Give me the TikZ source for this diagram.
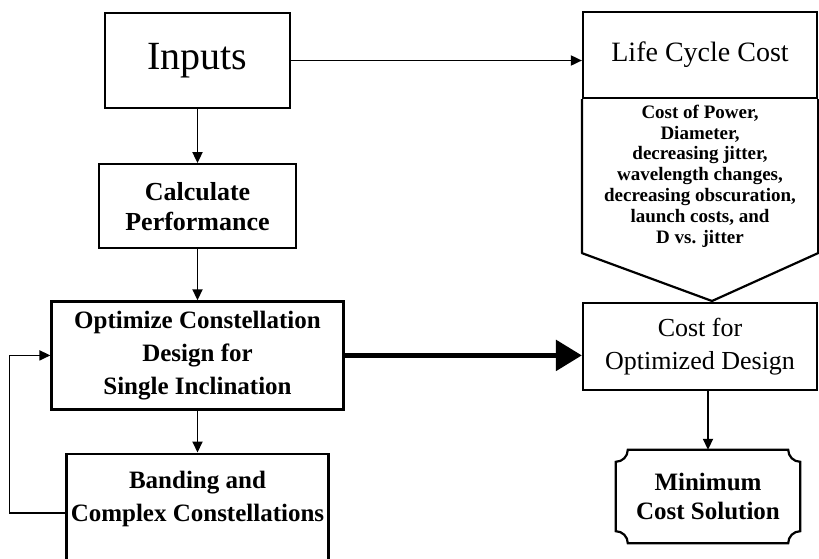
\documentclass[tikz,border=0pt]{standalone}
\usepackage{fontspec}
\setmainfont{Liberation Serif}
\usepackage{tikz}
\usetikzlibrary{positioning,%
  arrows.meta,%
  calc%
}

\begin{document}
\begin{tikzpicture}
                    [x=1pt, y=-1pt,
                    box/.style={rectangle, draw, line width=2.2pt,
                        inner sep=0pt, align=center},
                    plain/.style={inner sep=0pt, align=center},
                    link/.style={line width=1.8pt,
                        -{Triangle[length=11pt,width=10pt]}},
                    bigf/.style={font=\fontsize{25}{33}\selectfont\bfseries}]

                    \useasboundingbox (0,0) rectangle (819,558);

                    % left column
                    \node[box, minimum width=185pt, minimum height=95pt,
                        font=\fontsize{40}{44}\selectfont] (inputs)
                        at (197.5,60.5) {Inputs};
                    \node[box, minimum width=197pt, minimum height=84pt,
                        font=\fontsize{26}{30}\selectfont\bfseries,
                        below=54pt of inputs] (calc)
                        {Calculate\\Performance};
                    \node[box, bigf, minimum width=292pt, minimum height=108pt,
                        below=51pt of calc] (opt)
                        {Optimize Constellation\\Design for\\Single Inclination};
                    \node[box, minimum width=262pt, minimum height=118pt,
                        below=42pt of opt] (band) {};
                    \node[plain, bigf] (bandtext) at ([yshift=14pt]band.center)
                        {Banding and\\Complex Constellations};

                    % right column
                    \node[box, minimum width=234pt, minimum height=86pt,
                        font=\fontsize{28}{32}\selectfont] (lcc)
                        at (700,55) {Life Cycle Cost};
                    \node[plain, font=\fontsize{19}{20.8}\selectfont\bfseries]
                        (lccnote) at (700,176)
                        {Cost of Power,\\Diameter,\\decreasing jitter,\\wavelength changes,\\decreasing obscuration,\\launch costs, and\\D vs. jitter};
                    \node[box, minimum width=234pt, minimum height=87pt,
                        font=\fontsize{26}{33}\selectfont] (cost)
                        at (700,346.5) {Cost for\\Optimized Design};
                    \node[plain, font=\fontsize{25}{29}\selectfont\bfseries,
                        minimum width=184pt, minimum height=93pt]
                        (min) at (708,496.5) {Minimum\\Cost Solution};

                    % pointer under life cycle cost
                    \draw[line width=2.2pt, line join=round]
                        (lcc.south west) -- ++(0,154)
                        -- (712,301)
                        -- ($(lcc.south east)+(0,154)$)
                        -- (lcc.south east);

                    % plaque with cut corners
                    \draw[line width=2.2pt]
                        ([xshift=12pt]min.north west)
                        -- ([xshift=-12pt]min.north east)
                        .. controls ([xshift=-12pt,yshift=-6.6pt]min.north east)
                        and ([xshift=-6.6pt,yshift=-12pt]min.north east)
                        .. ([yshift=-12pt]min.north east)
                        -- ([yshift=12pt]min.south east)
                        .. controls ([xshift=-6.6pt,yshift=12pt]min.south east)
                        and ([xshift=-12pt,yshift=6.6pt]min.south east)
                        .. ([xshift=-12pt]min.south east)
                        -- ([xshift=12pt]min.south west)
                        .. controls ([xshift=12pt,yshift=6.6pt]min.south west)
                        and ([xshift=6.6pt,yshift=12pt]min.south west)
                        .. ([yshift=12pt]min.south west)
                        -- ([yshift=-12pt]min.north west)
                        .. controls ([xshift=6.6pt,yshift=-12pt]min.north west)
                        and ([xshift=12pt,yshift=-6.6pt]min.north west)
                        .. cycle;

                    \path[link]
                        (inputs) edge (calc)
                        (calc)   edge (opt)
                        (opt)    edge (band);

                    \draw[link]
                        (inputs.east) -- (inputs.east -| lcc.west);
                    \draw[link]
                        (min.north |- cost.south) -- (min.north);
                    \draw[link]
                        (band.west) -- ++(-56,0)
                                    |- (opt.west);

                    \draw[line width=5.5pt,
                        -{Triangle[length=26pt,width=30pt]}]
                        (opt.east) -- (opt.east -| cost.west);
                \end{tikzpicture}
\end{document}
